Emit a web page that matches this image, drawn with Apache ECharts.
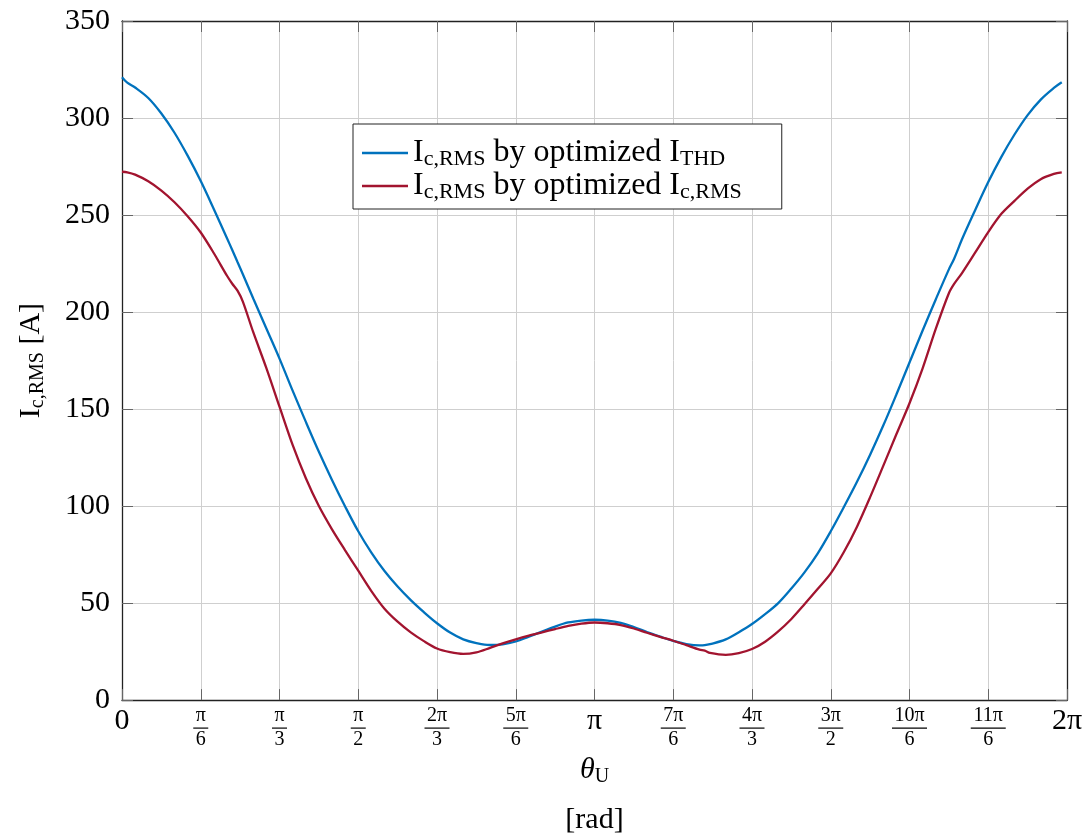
<!DOCTYPE html>
<html><head><meta charset="utf-8">
<script src="https://cdn.jsdelivr.net/npm/echarts@6/dist/echarts.min.js"></script>
<style>html,body{margin:0;padding:0;background:#fff}#c{width:1091px;height:840px}</style>
</head><body><div id="c"></div><script>
// angle theta_U in degrees (axis shown in radians as fractions of pi)
const thetaDeg = [0,2,5,10,15,20,25,30,35,40,42,44,46,50,55,60,65,70,75,80,85,90,95,100,105,110,115,120,125,130,135,140,145,150,155,160,165,170,175,180,185,190,195,200,205,210,215,220,222,224,230,235,240,245,250,255,260,265,270,275,280,285,290,295,300,305,310,315,317,320,325,330,335,340,345,350,355,358];
// I_c,RMS by optimized I_THD
const iByThd = [321,318.2,315.7,310.3,302.3,292.4,280.6,267.5,253,238,232,225.8,219.6,207,191.5,176,159.5,143.5,128,113.5,99.8,87,76,66.5,58.5,51.5,45.3,39.6,34.8,31.3,29.4,28.4,28.7,30.2,32.7,35.3,37.9,40.0,41.0,41.4,41.0,39.8,37.6,35.1,32.7,30.5,28.9,28.2,28.3,28.8,31.3,35,39.2,44.3,50,57.5,65.8,75.5,87,99.5,112.5,126.5,141.5,157.5,174,190.5,206.5,222,227.5,237.5,252.5,267,280,291.5,301.5,309.5,315.5,318.4];
// I_c,RMS by optimized I_c,RMS
const iByRms = [272.3,272.0,270.8,267.4,262.6,256.6,249.4,241,230.3,218.7,214.6,211,205.5,189.6,171.1,151.2,131.5,114.5,100,88,77.2,66.7,56.2,47.1,40.4,34.9,30.4,26.6,24.7,23.8,24.6,26.8,29.2,31.3,33.2,34.9,36.6,38.2,39.4,40,39.6,38.7,36.9,34.7,32.6,30.6,28.3,26,25.5,24.3,23.3,24.2,26.3,30.1,35.4,41.8,49.4,57.2,65.3,76.3,89.4,104.6,120.7,137,153,171,191.3,209.7,214.5,220.1,230.6,241.2,250.6,257.3,263.6,268.5,271.2,272];
const xTickLabels = ['0','π/6','π/3','π/2','2π/3','5π/6','π','7π/6','4π/3','3π/2','10π/6','11π/6','2π'];
const seriesNames = ['Ic,RMS by optimized ITHD','Ic,RMS by optimized Ic,RMS'];
const legendParts = {
  'Ic,RMS by optimized ITHD': ['I','c,RMS',' by optimized I','THD'],
  'Ic,RMS by optimized Ic,RMS': ['I','c,RMS',' by optimized I','c,RMS']
};

const FONT = "'Liberation Serif','DejaVu Serif',serif";
const AX = '#222';
const TICK = '#666';
const chart = echarts.init(document.getElementById('c'), null, {renderer:'canvas'});

function pairs(xs, ys){ return xs.map((x,i)=>[x, ys[i]]); }

const tickCommon = {show:true, inside:true, length:11, lineStyle:{color:TICK, width:1}};
const lineCommon = {show:true, onZero:false, lineStyle:{color:AX, width:1.3}};

chart.setOption({
  animation:false,
  backgroundColor:'#fff',
  grid:{left:122, right:24, top:21, bottom:138, containLabel:false},
  xAxis:[{
    type:'value', min:0, max:360, interval:30, position:'bottom',
    axisLine:lineCommon, axisTick:tickCommon,
    splitLine:{show:true, lineStyle:{color:'#cfcfcf', width:1}},
    axisLabel:{
      margin:6, color:'#000', fontFamily:FONT,
      formatter:function(v){
        const s = xTickLabels[Math.round(v/30)];
        if(!s) return '';
        if(s.indexOf('/')<0) return '{big|'+s+'}';
        const p = s.split('/');
        const bw = p[0].length>2 ? 'bar3' : (p[0].length>1 ? 'bar2' : 'bar1');
        return '{num|'+p[0]+'}\n{'+bw+'|\u00a0}\n{den|'+p[1]+'}';
      },
      rich:{
        big:{fontSize:30, lineHeight:30, fontFamily:FONT, color:'#000'},
        num:{fontSize:20, lineHeight:20, fontFamily:FONT, color:'#000'},
        den:{fontSize:20, lineHeight:20, fontFamily:FONT, color:'#000'},
        bar1:{width:15, height:1.2, lineHeight:4, fontSize:2, backgroundColor:'#000'},
        bar2:{width:25, height:1.2, lineHeight:4, fontSize:2, backgroundColor:'#000'},
        bar3:{width:35, height:1.2, lineHeight:4, fontSize:2, backgroundColor:'#000'}
      }
    },
    name:'{t|θ}{s|U}\n{r|[rad]}', nameLocation:'middle', nameGap:49,
    nameTextStyle:{fontFamily:FONT, color:'#000', rich:{
      t:{fontSize:30, fontStyle:'italic', lineHeight:34, fontFamily:FONT, color:'#000'},
      s:{fontSize:20, lineHeight:22, verticalAlign:'bottom', fontFamily:FONT, color:'#000'},
      r:{fontSize:30, lineHeight:66, fontFamily:FONT, color:'#000'}
    }}
  },{
    type:'value', min:0, max:360, interval:30, position:'top',
    axisLine:lineCommon, axisTick:tickCommon, axisLabel:{show:false}, splitLine:{show:false}
  }],
  yAxis:[{
    type:'value', min:0, max:350, interval:50, position:'left',
    axisLine:lineCommon, axisTick:tickCommon,
    splitLine:{show:true, lineStyle:{color:'#cfcfcf', width:1}},
    axisLabel:{margin:12, color:'#000', fontSize:30, fontFamily:FONT},
    name:'{m|I}{s|c,RMS}{m| [A]}', nameLocation:'middle', nameGap:74, nameRotate:90,
    nameTextStyle:{fontFamily:FONT, color:'#000', rich:{
      m:{fontSize:30, lineHeight:34, fontFamily:FONT, color:'#000'},
      s:{fontSize:20, lineHeight:22, verticalAlign:'bottom', fontFamily:FONT, color:'#000'}
    }}
  },{
    type:'value', min:0, max:350, interval:50, position:'right',
    axisLine:lineCommon, axisTick:tickCommon, axisLabel:{show:false}, splitLine:{show:false}
  }],
  legend:{
    orient:'vertical', left:353, top:124, icon:'rect', itemWidth:46, itemHeight:2.5, itemGap:0,
    padding:[13,40,6,9], borderColor:'#222', borderWidth:1, backgroundColor:'#fff',
    data:seriesNames,
    textStyle:{fontFamily:FONT, fontSize:32, color:'#000', rich:{
      m:{fontSize:32, lineHeight:34, fontFamily:FONT, color:'#000'},
      s:{fontSize:22, lineHeight:22, verticalAlign:'bottom', fontFamily:FONT, color:'#000'}
    }},
    formatter:function(name){
      const p = legendParts[name];
      return '{m|'+p[0]+'}{s|'+p[1]+'}{m|'+p[2]+'}{s|'+p[3]+'}';
    }
  },
  series:[{
    name:seriesNames[0], type:'line', xAxisIndex:0, yAxisIndex:0,
    data:pairs(thetaDeg, iByThd), symbol:'none', smooth:0.35,
    lineStyle:{color:'#0072BD', width:2.3}, itemStyle:{color:'#0072BD'}
  },{
    name:seriesNames[1], type:'line', xAxisIndex:0, yAxisIndex:0,
    data:pairs(thetaDeg, iByRms), symbol:'none', smooth:0.3,
    lineStyle:{color:'#A2142F', width:2.3}, itemStyle:{color:'#A2142F'}
  }]
});
</script></body></html>
